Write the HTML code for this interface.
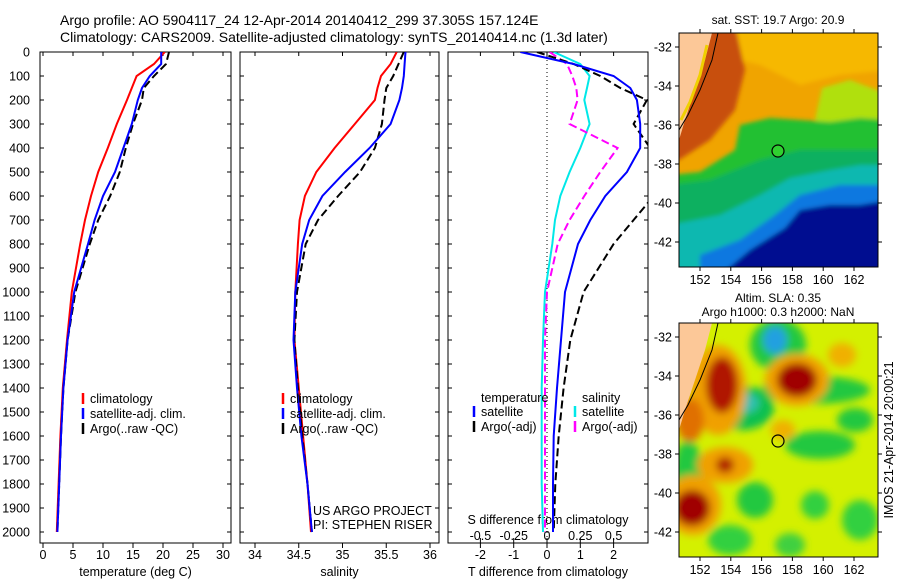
<!DOCTYPE html>
<html><head><meta charset="utf-8"><style>
body{margin:0;background:#fff;}
svg{display:block;font-family:"Liberation Sans",sans-serif;}
text{font-size:12.5px;fill:#000;}
</style></head><body>
<svg id="fig" width="900" height="580" viewBox="0 0 900 580">
<defs>
<filter id="bl" x="-50%" y="-50%" width="200%" height="200%"><feGaussianBlur stdDeviation="4"/></filter>
<filter id="bl2" x="-50%" y="-50%" width="200%" height="200%"><feGaussianBlur stdDeviation="2"/></filter>
<clipPath id="c1"><rect x="679" y="33" width="199" height="234"/></clipPath>
<clipPath id="c2"><rect x="679" y="323" width="199" height="234"/></clipPath>
<clipPath id="p1"><rect x="40" y="52" width="191" height="491"/></clipPath>
<clipPath id="p2"><rect x="240" y="52" width="199" height="491"/></clipPath>
<clipPath id="p3"><rect x="448" y="52" width="200" height="491"/></clipPath>
</defs>
<text x="60" y="25" style="font-size:14px">Argo profile: AO 5904117_24 12-Apr-2014 20140412_299 37.305S 157.124E</text>
<text x="60" y="42" style="font-size:14px">Climatology: CARS2009. Satellite-adjusted climatology: synTS_20140414.nc (1.3d later)</text>

<g id="p1g"></g>
<g id="p2g"></g>
<g id="p3g"></g>

<!-- top map -->
<g>
<text x="778" y="24" text-anchor="middle" style="font-size:12px">sat. SST: 19.7 Argo: 20.9</text>
<g clip-path="url(#c1)">
<rect x="679" y="33" width="199" height="234" fill="#f0a400"/>
<g filter="url(#bl2)">
<path d="M670 25 L890 25 L890 70 L840 75 L800 85 L760 65 L720 55 Z" fill="#f6b800"/>
<path d="M700 25 L735 25 L745 70 L735 110 L710 140 L679 160 L670 160 L670 40 Z" fill="#c85010"/>
<path d="M815 120 L822 88 L850 80 L890 95 L890 125 L830 125 Z" fill="#b0e010"/>
<path d="M670 175 L700 172 L735 150 L740 125 L770 118 L800 120 L830 122 L860 118 L890 120 L890 275 L670 275 Z" fill="#20c030"/>
<path d="M670 185 L710 180 L760 160 L800 150 L840 150 L890 150 L890 275 L670 275 Z" fill="#10b060"/>
<path d="M670 225 L720 215 L760 195 L790 178 L830 170 L860 165 L890 165 L890 275 L670 275 Z" fill="#10b8b0"/>
<path d="M700 255 L740 240 L775 215 L800 195 L840 185 L890 185 L890 275 L700 275 Z" fill="#1078e0"/>
<path d="M720 275 L750 250 L785 228 L800 210 L830 205 L860 205 L890 200 L890 275 Z" fill="#001090"/>
</g>
<path d="M679 33 L712 33 L705 60 L695 90 L685 120 L679 140 Z" fill="#fcc898"/>
<path d="M718 33 L712 60 L700 90 L688 115 L679 130" fill="none" stroke="#000" stroke-width="1"/>
<path d="M707 45 L700 75 L690 102 L681 120" fill="none" stroke="#f0d000" stroke-width="3"/>
</g>
<circle cx="778" cy="151" r="6" fill="#30d030" stroke="#000" stroke-width="1.2"/>
<rect x="679" y="33" width="199" height="234" fill="none" stroke="#000"/>
<g id="m1ax"></g>
</g>

<!-- bottom map -->
<g>
<text x="778" y="302" text-anchor="middle" style="font-size:12px">Altim. SLA: 0.35</text>
<text x="778" y="316" text-anchor="middle" style="font-size:12px">Argo h1000: 0.3 h2000: NaN</text>
<g clip-path="url(#c2)">
<rect x="679" y="323" width="199" height="234" fill="#d4f000"/>
<g filter="url(#bl)">
<ellipse cx="778" cy="345" rx="28" ry="26" fill="#20c840"/>
<ellipse cx="775" cy="340" rx="12" ry="14" fill="#20a0e0"/>
<ellipse cx="742" cy="408" rx="32" ry="22" fill="#10c050"/>
<ellipse cx="745" cy="403" rx="14" ry="10" fill="#30c0b0"/>
<ellipse cx="815" cy="390" rx="55" ry="14" fill="#20c840"/>
<ellipse cx="820" cy="445" rx="35" ry="14" fill="#20c840"/>
<ellipse cx="855" cy="420" rx="18" ry="12" fill="#20c840"/>
<ellipse cx="688" cy="470" rx="14" ry="30" fill="#20c840"/>
<ellipse cx="755" cy="500" rx="18" ry="18" fill="#20c840"/>
<ellipse cx="815" cy="505" rx="14" ry="14" fill="#30d040"/>
<ellipse cx="860" cy="520" rx="18" ry="20" fill="#30d040"/>
<ellipse cx="730" cy="540" rx="22" ry="15" fill="#30d040"/>
<ellipse cx="790" cy="545" rx="15" ry="12" fill="#40d040"/>
<ellipse cx="718" cy="390" rx="28" ry="45" fill="#f0a000"/>
<ellipse cx="722" cy="385" rx="16" ry="28" fill="#b01800"/>
<ellipse cx="797" cy="380" rx="32" ry="26" fill="#f0a000"/>
<ellipse cx="797" cy="380" rx="20" ry="17" fill="#a00000"/>
<ellipse cx="690" cy="420" rx="14" ry="22" fill="#e07000"/>
<ellipse cx="725" cy="465" rx="28" ry="18" fill="#f0a000"/>
<ellipse cx="725" cy="465" rx="9" ry="8" fill="#b02000"/>
<ellipse cx="693" cy="505" rx="28" ry="30" fill="#f0a000"/>
<ellipse cx="692" cy="508" rx="18" ry="18" fill="#a00000"/>
<ellipse cx="842" cy="355" rx="14" ry="12" fill="#f0b000"/>
<ellipse cx="783" cy="430" rx="12" ry="10" fill="#f0b000"/>
</g>
<path d="M679 323 L712 323 L705 350 L695 380 L685 410 L679 430 Z" fill="#fcc898"/>
<path d="M718 323 L712 350 L700 380 L688 405 L679 420" fill="none" stroke="#000" stroke-width="1"/>
</g>
<circle cx="778" cy="441" r="6" fill="none" stroke="#000" stroke-width="1.2"/>
<rect x="679" y="323" width="199" height="234" fill="none" stroke="#000"/>
<g id="m2ax"></g>
<text transform="translate(893,440) rotate(-90)" text-anchor="middle" style="font-size:12.5px">IMOS 21-Apr-2014 20:00:21</text>
</g>
</svg>
<script>
// ---- data ----
const depths = [0,50,100,150,200,300,400,500,600,700,800,1000,1200,1400,1600,1800,2000];
const tempClim = [20.3,18.5,15.6,14.8,14.0,12.3,10.8,9.2,8.0,7.0,6.2,4.8,4.0,3.3,2.9,2.6,2.3];
const tempSat  = [19.7,19.7,17.8,16.5,15.8,14.8,13.4,12.0,10.0,8.6,7.5,5.2,4.1,3.4,3.0,2.7,2.4];
const tempArgo = [21.0,20.5,18.5,16.8,16.5,15.0,13.8,12.8,11.2,9.2,7.8,5.4,4.1,3.4,3.0,2.7,2.4];
const salClim = [35.62,35.55,35.44,35.40,35.37,35.14,34.91,34.70,34.57,34.51,34.49,34.46,34.45,34.50,34.55,34.60,34.64];
const salSat  = [35.72,35.71,35.70,35.68,35.65,35.55,35.31,35.03,34.77,34.62,34.54,34.46,34.44,34.48,34.53,34.60,34.65];
const salArgo = [35.70,35.64,35.58,35.50,35.48,35.45,35.37,35.20,34.95,34.72,34.58,34.48,34.45,34.49,34.54,34.60,34.65];
const dTSat  = [-0.8,0.8,2.0,2.5,2.7,2.8,2.8,2.4,1.75,1.3,0.93,0.54,0.42,0.3,0.2,0.18,0.18];
const dTArgo = [-0.3,0.8,1.6,2.2,3.0,2.6,3.1,3.3,3.2,2.6,2.0,1.1,0.7,0.5,0.35,0.25,0.2];
const dSSat  = [0.05,0.25,0.32,0.30,0.28,0.32,0.25,0.17,0.10,0.06,0.04,-0.015,-0.03,-0.04,-0.04,-0.04,-0.03];
const dSArgo = [0.02,0.15,0.19,0.22,0.23,0.17,0.53,0.40,0.28,0.17,0.08,0.0,-0.015,-0.015,-0.015,-0.015,-0.015];
const depthTicks = [0,100,200,300,400,500,600,700,800,900,1000,1100,1200,1300,1400,1500,1600,1700,1800,1900,2000];
const tTicks = [0,5,10,15,20,25,30];
const sTicks = [34,34.5,35,35.5,36];
const dTTicks = [-2,-1,0,1,2];
const dSTicks = [-0.5,-0.25,0,0.25,0.5];
const lonTicks = [152,154,156,158,160,162];
const latTicks = [-32,-34,-36,-38,-40,-42];

const NS='http://www.w3.org/2000/svg';
function mk(parent,tag,attrs,txt){const e=document.createElementNS(NS,tag);for(const k in attrs)e.setAttribute(k,attrs[k]);if(txt!==undefined)e.textContent=txt;parent.appendChild(e);return e;}
const yD = d => 52 + d*0.24;
const PY0=52, PY1=543;

function panel(g,x0,x1,xs,ticks,fmt,label,showY){
  const fr=mk(g,'rect',{x:x0,y:PY0,width:x1-x0,height:PY1-PY0,fill:'none',stroke:'#000'});
  
  
  depthTicks.forEach(d=>{
    const y=yD(d);
    mk(g,'line',{x1:x0,y1:y,x2:x0+4,y2:y,stroke:'#000'});
    mk(g,'line',{x1:x1,y1:y,x2:x1-4,y2:y,stroke:'#000'});
    if(showY){const t=mk(g,'text',{x:30,y:y+4.5,'text-anchor':'end'},String(d));
      
      }
  });
  ticks.forEach(v=>{
    const x=xs(v);
    mk(g,'line',{x1:x,y1:PY1,x2:x,y2:PY1+5,stroke:'#000'});
    mk(g,'line',{x1:x,y1:PY0,x2:x,y2:PY0+4,stroke:'#000'});
    const t=mk(g,'text',{x:x,y:559,'text-anchor':'middle'},fmt(v));
    
    
  });
  const l=mk(g,'text',{x:(x0+x1)/2,y:576,'text-anchor':'middle'},label);
  
  
}
function line(g,clip,xs,vals,color,dash,name,w){
  const pts=vals.map((v,i)=>xs(v).toFixed(1)+','+yD(depths[i]).toFixed(1)).join(' ');
  const p=mk(g,'polyline',{points:pts,fill:'none',stroke:color,'stroke-width':w||2,'clip-path':clip});
  if(dash)p.setAttribute('stroke-dasharray',dash);
  
  
}
function legend(g,x,y,items){
  items.forEach((it,i)=>{
    const yy=y+i*15;
    mk(g,'line',{x1:x,y1:yy-10,x2:x,y2:yy+1,stroke:it[0],'stroke-width':2.5});
    const t=mk(g,'text',{x:x+7,y:yy},it[1]);
    
    
  });
}
// panel 1
const g1=document.getElementById('p1g');
const xT=v=>43+v*6;
panel(g1,40,231,xT,tTicks,String,'temperature (deg C)',true);
line(g1,'url(#p1)',xT,tempClim,'#ff0000',null,'temp-climatology-line');
line(g1,'url(#p1)',xT,tempArgo,'#000',"8,4",'temp-argo-line');
line(g1,'url(#p1)',xT,tempSat,'#0000ff',null,'temp-satellite-line');
legend(g1,83,403,[['#f00','climatology'],['#00f','satellite-adj. clim.'],['#000','Argo(..raw -QC)']]);
// panel 2
const g2=document.getElementById('p2g');
const xS=v=>255+(v-34)*87.5;
panel(g2,240,439,xS,sTicks,String,'salinity',false);
line(g2,'url(#p2)',xS,salClim,'#ff0000',null,'sal-climatology-line');
line(g2,'url(#p2)',xS,salArgo,'#000',"8,4",'sal-argo-line');
line(g2,'url(#p2)',xS,salSat,'#0000ff',null,'sal-satellite-line');
legend(g2,283,403,[['#f00','climatology'],['#00f','satellite-adj. clim.'],['#000','Argo(..raw -QC)']]);
let t=mk(g2,'text',{x:313,y:515},'US ARGO PROJECT');


t=mk(g2,'text',{x:313,y:529},'PI: STEPHEN RISER');


// panel 3
const g3=document.getElementById('p3g');
const xDT=v=>547+v*33.3;
const xDS=v=>547+v*133.2;
panel(g3,448,648,xDT,dTTicks,String,'T difference from climatology',false);
mk(g3,'line',{x1:547,y1:PY0,x2:547,y2:PY1,stroke:'#000','stroke-dasharray':'1,3'});
dSTicks.forEach(v=>{const x=xDS(v);mk(g3,'line',{x1:x,y1:PY1,x2:x,y2:PY1-5,stroke:'#000'});
  const s=mk(g3,'text',{x:x,y:540,'text-anchor':'middle'},String(v));
  
  });
t=mk(g3,'text',{x:548,y:524,'text-anchor':'middle'},'S difference from climatology');


line(g3,'url(#p3)',xDS,dSSat,'#00e8e8',null,'dS-satellite-line');
line(g3,'url(#p3)',xDS,dSArgo,'#ff00ff',"8,4",'dS-argo-line');
line(g3,'url(#p3)',xDT,dTArgo,'#000',"8,4",'dT-argo-line');
line(g3,'url(#p3)',xDT,dTSat,'#0000ff',null,'dT-satellite-line');
t=mk(g3,'text',{x:481,y:402},'temperature');


t=mk(g3,'text',{x:582,y:402},'salinity');


legend(g3,474,416,[['#00f','satellite'],['#000','Argo(-adj)']]);
legend(g3,575,416,[['#00e8e8','satellite'],['#f0f','Argo(-adj)']]);
// map axes
function mapAx(id,y0,y1){
  const g=document.getElementById(id);
  const lx=v=>700+(v-152)*15.4, ly=v=>(y0+14)+(-32-v)*19.5;
  lonTicks.forEach(v=>{const x=lx(v);mk(g,'line',{x1:x,y1:y0,x2:x,y2:y0-4,stroke:'#000'});mk(g,'line',{x1:x,y1:y1,x2:x,y2:y1+4,stroke:'#000'});
    const s=mk(g,'text',{x:x,y:y1+17,'text-anchor':'middle',style:'font-size:12.5px'},String(v));
    
    });
  latTicks.forEach(v=>{const y=ly(v);mk(g,'line',{x1:679,y1:y,x2:675,y2:y,stroke:'#000'});mk(g,'line',{x1:878,y1:y,x2:882,y2:y,stroke:'#000'});
    const s=mk(g,'text',{x:672,y:y+4.5,'text-anchor':'end',style:'font-size:12.5px'},String(v));
    
    });
}
mapAx('m1ax',33,267);
mapAx('m2ax',323,557);
</script>
</body></html>
